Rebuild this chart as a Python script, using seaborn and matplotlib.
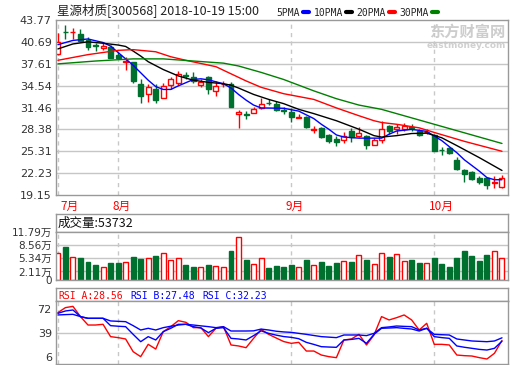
import numpy as np
import pandas as pd
import seaborn as sns
import matplotlib.pyplot as plt
import matplotlib.transforms as mtransforms
from matplotlib.lines import Line2D

# daily candles 2018-07-20 .. 2018-10-19
opens = [38.97, 42.10, 42.08, 41.81, 41.00, 40.25, 39.85, 40.00, 38.80, 37.85,
         37.85, 34.77, 33.37, 34.10, 32.85, 34.60, 34.90, 35.98, 35.80, 34.60,
         35.70, 33.85, 34.72, 34.77, 30.60, 30.52, 30.72, 31.42, 32.15, 31.90,
         31.08, 30.80, 30.00, 30.10, 28.35, 28.62, 27.60, 27.00, 26.90, 28.15,
         27.45, 27.45, 26.20, 26.90, 28.85, 28.40, 28.48, 28.65, 28.15, 27.98,
         27.60, 25.48, 25.70, 24.10, 22.70, 22.35, 21.60, 21.50, 20.90, 20.22]
closes = [40.73, 42.05, 42.15, 40.78, 40.00, 40.15, 40.18, 38.45, 38.45, 37.95,
          35.20, 33.05, 34.30, 32.45, 34.45, 35.40, 36.17, 35.92, 35.15, 35.00,
          34.00, 34.55, 34.80, 31.50, 30.88, 30.45, 31.20, 31.97, 32.10, 31.10,
          31.00, 30.10, 30.03, 28.70, 28.40, 27.30, 26.75, 26.60, 27.45, 27.25,
          27.92, 26.20, 26.85, 28.50, 28.15, 28.70, 28.85, 28.60, 27.60, 28.02,
          25.35, 25.42, 25.10, 22.80, 22.10, 21.40, 21.00, 20.50, 20.95, 21.50]
highs = [41.90, 43.07, 42.70, 42.50, 41.40, 40.60, 40.50, 40.20, 39.20, 38.60,
         37.90, 35.40, 34.80, 34.70, 34.90, 35.76, 36.55, 36.45, 36.40, 35.40,
         35.85, 35.15, 35.15, 35.10, 31.05, 31.00, 31.50, 32.80, 32.60, 32.35,
         31.50, 31.40, 30.58, 30.20, 28.85, 28.70, 27.80, 27.45, 28.05, 28.60,
         28.75, 27.60, 27.10, 29.55, 28.95, 29.20, 29.30, 29.10, 28.48, 28.40,
         27.80, 25.85, 25.95, 24.45, 22.80, 22.55, 21.85, 21.60, 21.85, 21.95]
lows = [38.80, 41.07, 41.10, 40.70, 39.50, 39.35, 39.60, 38.40, 38.40, 36.70,
        34.95, 32.10, 32.30, 32.10, 32.75, 34.10, 34.60, 35.40, 34.95, 34.30,
        33.30, 33.05, 34.40, 31.50, 28.62, 29.90, 30.70, 31.20, 31.85, 31.00,
        30.50, 29.35, 29.98, 28.60, 27.85, 27.10, 26.50, 26.05, 26.50, 26.60,
        27.30, 25.60, 26.15, 26.50, 27.80, 27.80, 28.15, 28.15, 27.45, 27.70,
        25.30, 24.80, 24.98, 22.70, 20.95, 21.30, 20.70, 20.00, 20.20, 20.20]
# volume in 万 (10k lots)
volumes = [6.55, 8.03, 5.57, 5.40, 4.42, 3.60, 3.11, 4.17, 4.17, 4.42,
           5.65, 5.16, 5.40, 5.89, 6.55, 4.83, 5.32, 3.60, 3.19, 3.11,
           3.60, 3.36, 3.11, 7.12, 10.48, 4.91, 3.85, 5.32, 3.03, 3.44,
           3.19, 3.68, 3.11, 4.91, 3.60, 4.42, 3.44, 4.17, 4.58, 4.42,
           6.06, 4.91, 3.93, 6.63, 5.65, 6.39, 4.67, 4.91, 4.17, 4.17,
           5.40, 3.93, 3.19, 5.40, 7.12, 5.89, 4.67, 6.14, 7.04, 5.3732]

# moving averages read at sample days
ma5_idx = [0, 2, 4, 6, 7, 8, 10, 12, 13, 14, 15, 16, 18, 19, 20, 22, 23, 24, 25, 26,
           27, 30, 32, 34, 35, 36, 37, 38, 40, 43, 44, 45, 47, 49, 50, 51, 53, 54,
           55, 56, 57, 58, 59]
ma5_val = [40.3, 40.9, 41.1, 40.6, 40.1, 39.2, 37.4, 35.3, 34.4, 34.0, 34.0, 34.5,
           35.4, 35.5, 35.35, 34.8, 34.2, 33.3, 32.5, 31.8, 31.4, 31.35, 30.95,
           29.9, 29.1, 28.4, 27.6, 27.3, 27.15, 27.15, 27.7, 28.15, 28.38, 28.1,
           27.45, 26.8, 25.1, 24.1, 23.3, 22.5, 21.6, 21.3, 21.3]
ma10_idx = [0, 2, 4, 6, 8, 9, 10, 11, 12, 14, 16, 18, 20, 22, 23, 24, 26, 28, 30,
            32, 34, 37, 40, 42, 43, 45, 47, 49, 51, 53, 56, 59]
ma10_val = [39.7, 40.4, 40.7, 40.5, 40.25, 40.05, 39.4, 38.7, 37.9, 36.8, 35.9,
            35.3, 35.0, 34.8, 34.6, 34.2, 33.3, 32.6, 32.0, 31.2, 30.6, 29.6,
            28.4, 27.5, 27.3, 27.5, 27.8, 27.85, 27.2, 26.1, 24.4, 22.6]
ma20_idx = [0, 4, 8, 10, 13, 15, 17, 21, 23, 25, 27, 30, 32, 34, 37, 40, 42, 43,
            45, 48, 50, 54, 59]
ma20_val = [38.1, 38.9, 39.5, 39.6, 39.3, 38.6, 38.1, 37.2, 36.2, 35.2, 34.3, 33.4,
            33.0, 32.6, 31.4, 30.3, 29.6, 29.35, 29.1, 28.6, 27.95, 26.7, 25.3]
ma30_idx = [0, 5, 10, 14, 18, 22, 24, 27, 30, 32, 34, 37, 40, 43, 45, 50, 54, 59]
ma30_val = [37.6, 38.0, 38.3, 38.3, 38.0, 37.7, 37.3, 36.4, 35.4, 34.6, 33.8, 32.7,
            31.8, 31.2, 30.6, 29.1, 27.9, 26.4]

rsi_a = [67.6, 74.6, 76.4, 62.0, 50.2, 50.2, 51.2, 33.9, 32.5, 30.6,
         12.8, 5.8, 23.1, 16.5, 40.9, 47.9, 56.3, 54.0, 46.5, 46.5,
         33.9, 45.6, 47.9, 22.2, 20.8, 18.4, 31.5, 44.0, 37.1, 32.0,
         27.0, 24.5, 25.9, 13.7, 13.7, 8.1, 5.8, 4.4, 29.2, 30.6,
         37.1, 22.2, 36.2, 62.0, 57.3, 60.5, 64.3, 57.3, 43.2, 52.6,
         23.1, 23.1, 22.2, 8.1, 7.2, 6.7, 4.4, 2.5, 10.5, 28.56]
rsi_b = [66.6, 69.9, 71.3, 62.0, 59.6, 59.6, 59.6, 49.3, 48.5, 47.9,
         37.1, 26.8, 33.9, 29.2, 40.9, 45.6, 51.2, 51.2, 47.9, 46.0,
         39.5, 45.6, 46.5, 31.5, 30.6, 29.2, 35.3, 42.0, 38.5, 36.0,
         34.0, 32.9, 31.0, 25.9, 23.0, 19.8, 19.3, 18.9, 29.2, 30.0,
         31.5, 24.5, 37.1, 45.6, 46.0, 46.5, 45.5, 44.6, 41.8, 45.6,
         33.9, 32.5, 31.5, 20.8, 19.0, 17.5, 16.0, 15.1, 17.5, 27.48]
rsi_c = [64.3, 64.8, 65.2, 62.0, 59.6, 59.6, 59.6, 55.9, 55.4, 54.9,
         49.3, 43.2, 45.6, 43.2, 46.5, 48.5, 50.2, 51.2, 50.2, 49.0,
         47.9, 46.5, 47.9, 41.8, 41.8, 41.8, 42.0, 44.5, 43.2, 41.5,
         40.5, 39.9, 38.5, 37.1, 35.5, 33.9, 33.2, 32.5, 36.2, 36.2,
         36.2, 35.3, 38.5, 46.5, 47.5, 48.8, 48.3, 47.9, 43.2, 45.6,
         37.1, 36.6, 36.2, 30.6, 29.2, 27.8, 27.3, 26.8, 27.8, 32.23]

price_ticks = [19.15, 22.23, 25.31, 28.38, 31.46, 34.54, 37.61, 40.69, 43.77]
vol_ticks = [0, 2.11, 5.34, 8.56, 11.79]
vol_labels = ["0", "2.11万", "5.34万", "8.56万", "11.79万"]
rsi_ticks = [6, 39, 72]
month_idx = [0, 8, 31, 50]
month_labels = ["7月", "8月", "9月", "10月"]

UP, DOWN = "#ff0000", "#00702f"
GRID, EDGE = "#c6c6c6", "#999999"
CJK = ["Noto Sans CJK SC", "DejaVu Sans"]
MONO = ["DejaVu Sans Mono", "Noto Sans CJK SC"]

sns.set_theme(style="white")
plt.rcParams["font.family"] = ["DejaVu Sans", "Noto Sans CJK SC"]

W, H = 520, 365
fig = plt.figure(figsize=(W / 100, H / 100), dpi=100)


def box(x0, y0, x1, y1):
    a = fig.add_axes([x0 / W, 1 - y1 / H, (x1 - x0) / W, (y1 - y0) / H])
    for s in a.spines.values():
        s.set_color(EDGE)
        s.set_linewidth(1)
        s.set_zorder(5)
    a.set_xlim(-0.25, 59.8)
    a.set_xticks([])
    a.tick_params(axis="y", length=0, pad=3, labelsize=8, labelcolor="#333333")
    return a


ax = box(56, 20, 508, 195)
axvh = box(56, 214, 508, 232)
axv = box(56, 232, 508, 280)
axrh = box(56, 288, 508, 301)
axr = box(56, 301, 508, 364)
for a in (axvh, axrh):
    a.set_yticks([])

df = pd.DataFrame({"open": opens, "high": highs, "low": lows,
                   "close": closes, "vol": volumes})
df["i"] = np.arange(len(df))
up = (df.close >= df.open).values
edge = np.where(up, UP, DOWN)
face = np.where(up, "white", DOWN)

# candles
ax.vlines(df.i, df.low, df.high, colors=edge, lw=1, zorder=2)
body = (df.close - df.open).abs().clip(lower=0.06)
ax.bar(df.i, body, bottom=df[["open", "close"]].min(axis=1), width=0.66,
       color=face, edgecolor=edge, linewidth=1, zorder=3)

for idx, val, c in [(ma5_idx, ma5_val, "#0000ff"), (ma10_idx, ma10_val, "#000000"),
                    (ma20_idx, ma20_val, "#ff0000"), (ma30_idx, ma30_val, "#008000")]:
    sns.lineplot(x=idx, y=val, ax=ax, color=c, linewidth=1, legend=False, zorder=4)

ax.set_ylim(price_ticks[0], price_ticks[-1])
ax.set_yticks(price_ticks)
ax.set_yticklabels([f"{t:.2f}" for t in price_ticks])

# watermark
ax.text(0.995, 0.935, "东方财富网", transform=ax.transAxes, ha="right", va="center",
        color="#cdcdcd", fontsize=11, fontweight="bold", family=CJK, zorder=1)
ax.text(0.995, 0.855, "eastmoney.com", transform=ax.transAxes, ha="right",
        va="center", color="#d0d0d0", fontsize=6.5, fontweight="bold", zorder=1)

# legend above main panel
handles = [Line2D([], [], color=c, lw=3) for c in ["#0000ff", "#000000", "#ff0000", "#008000"]]
ax.legend(handles, ["5PMA", "10PMA", "20PMA", "30PMA"], loc="lower left",
          bbox_to_anchor=((274 - 56) / 452, 1.0), ncol=4, markerfirst=False,
          frameon=False, handlelength=0.6, handletextpad=0.3, columnspacing=0.5,
          borderpad=0.15, borderaxespad=0.1, prop={"family": MONO, "size": 7})

fig.text(57 / W, 1 - 10 / H, "星源材质[300568] 2018-10-19 15:00", ha="left",
         va="center", fontsize=9, family=CJK, color="#222222")

# month labels
tr = mtransforms.blended_transform_factory(ax.transData, ax.transAxes)
for m, lab in zip(month_idx, month_labels):
    ax.text(max(m - 0.7, 0.3), -11 / 175, lab, transform=tr, ha="left",
            va="center", color="#ff0000", fontsize=8.5, family=CJK)

# volume
axv.bar(df.i, df.vol, width=0.66, color=face, edgecolor=edge, linewidth=1, zorder=3)
axv.set_ylim(0, vol_ticks[-1])
axv.set_yticks(vol_ticks)
axv.set_yticklabels(vol_labels)
axv.tick_params(axis="y", labelsize=7.5)
axvh.text(2 / 452, 0.5, f"成交量:{int(round(volumes[-1] * 10000))}",
          transform=axvh.transAxes, ha="left", va="center", fontsize=9,
          family=CJK, color="#111111")

# RSI
x = np.arange(len(rsi_a))
sns.lineplot(x=x, y=rsi_a, ax=axr, color="#ff0000", linewidth=1, legend=False, zorder=3)
sns.lineplot(x=x, y=rsi_b, ax=axr, color="#0000ff", linewidth=1, legend=False, zorder=3)
sns.lineplot(x=x, y=rsi_c, ax=axr, color="#0000ff", linewidth=1, legend=False, zorder=3)
axr.set_ylim(-4.5, 83.9)
axr.set_yticks(rsi_ticks)
for k, (lab, val, c) in enumerate([("RSI_A", rsi_a[-1], "#ff0000"),
                                    ("RSI_B", rsi_b[-1], "#0000ff"),
                                    ("RSI_C", rsi_c[-1], "#0000ff")]):
    axrh.text((2 + k * 72) / 452, 0.45, f"{lab}:{val:.2f}", transform=axrh.transAxes,
              ha="left", va="center", fontsize=7, family=MONO, color=c)

# grid lines
for a, levels in [(ax, price_ticks[1:-1]), (axv, vol_ticks[1:-1]), (axr, [39])]:
    for lv in levels:
        a.axhline(lv, color=GRID, lw=1, zorder=1)
    for m in month_idx:
        a.axvline(m, color="#c8c8c8", lw=1, ls=(0, (3, 3)), zorder=1)
    a.set_xlim(-0.25, 59.8)
    a.set_xlabel("")
    a.set_ylabel("")

fig.savefig("out.png", dpi=100)
